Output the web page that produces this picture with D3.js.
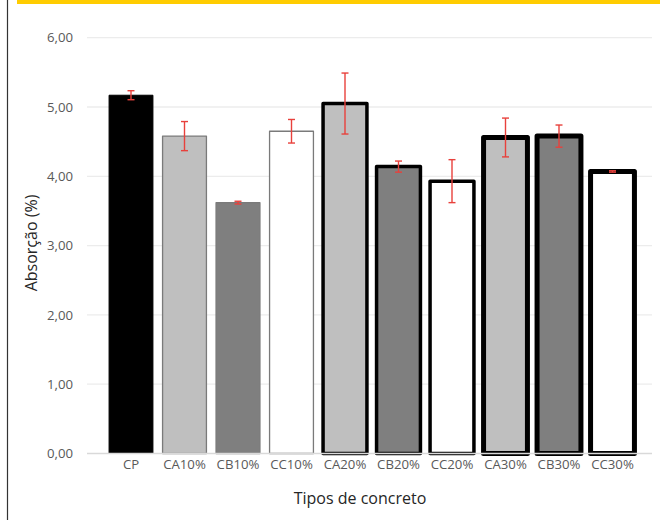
<!DOCTYPE html>
<html><head><meta charset="utf-8">
<script src="https://cdn.jsdelivr.net/npm/d3@7"></script>
<style>body{margin:0;background:#fff}svg{display:block}text{font-family:"Open Sans",sans-serif}</style>
</head><body>
<svg id="c" width="660" height="520"></svg>
<script>
const categories = ["CP","CA10%","CB10%","CC10%","CA20%","CB20%","CC20%","CA30%","CB30%","CC30%"];
const values = [5.17, 4.58, 3.62, 4.65, 5.05, 4.14, 3.93, 4.56, 4.58, 4.07];
const errors = [0.065, 0.21, 0.02, 0.17, 0.44, 0.08, 0.31, 0.28, 0.16, 0.01];
const fills = ["#000000","#bfbfbf","#7f7f7f","#ffffff","#bfbfbf","#7f7f7f","#ffffff","#bfbfbf","#7f7f7f","#ffffff"];
const yTicks = [0,1,2,3,4,5,6];
const yTickLabels = ["0,00","1,00","2,00","3,00","4,00","5,00","6,00"];
const yTitle = "Absorção (%)";
const xTitle = "Tipos de concreto";

const svg = d3.select("#c");
// frame decorations
svg.append("rect").attr("x",17).attr("y",0).attr("width",643).attr("height",4).attr("fill","#ffcc00");
svg.append("line").attr("x1",7.5).attr("x2",7.5).attr("y1",0).attr("y2",520).attr("stroke","#333").attr("stroke-width",1.2);

const gridX0 = 87, gridX1 = 652;
const y = d3.scaleLinear().domain([0,6]).range([453.5,37.7]);
const x = d3.scaleBand().domain(categories).range([104.25,639.25]).paddingInner(0.18).paddingOuter(0.09);

// gridlines
svg.append("g").selectAll("line").data(yTicks.filter(d=>d>0)).join("line")
  .attr("x1",gridX0).attr("x2",gridX1).attr("y1",d=>y(d)).attr("y2",d=>y(d))
  .attr("stroke","#ececec").attr("stroke-width",1.3);

// y axis labels
const yAxis = d3.axisLeft(y).tickValues(yTicks).tickFormat((d,i)=>yTickLabels[i]).tickSize(0).tickPadding(14);
const gy = svg.append("g").attr("transform",`translate(${gridX0},0)`).call(yAxis);
gy.select(".domain").remove();
gy.selectAll("text").attr("fill","#595959").attr("font-size",13.2).attr("font-family","Open Sans");

// bars
const strokeW = i => i===0 ? 1 : (i<=3 ? 1.3 : (i<=6 ? 3.5 : 5));
const strokeC = i => i===0 ? "#000" : (i<=3 ? "#7a7a7a" : "#000");
svg.append("g").selectAll("rect").data(values).join("rect")
  .attr("x",(d,i)=>x(categories[i]))
  .attr("width",x.bandwidth())
  .attr("y",d=>y(d))
  .attr("height",d=>y(0)-y(d))
  .attr("fill",(d,i)=>fills[i])
  .attr("stroke",(d,i)=>strokeC(i))
  .attr("stroke-width",(d,i)=>strokeW(i))
  .attr("stroke-linejoin","round");

// x axis baseline
svg.append("line").attr("x1",gridX0).attr("x2",gridX1).attr("y1",y(0)).attr("y2",y(0)).attr("stroke","#d9d9d9").attr("stroke-width",1.3);

// x axis labels
const xAxis = d3.axisBottom(x).tickSize(0).tickPadding(6);
const gx = svg.append("g").attr("transform",`translate(0,${y(0)})`).call(xAxis);
gx.select(".domain").remove();
gx.selectAll("text").attr("fill","#595959").attr("font-size",13.2).attr("font-family","Open Sans");

// error bars
const eb = svg.append("g").attr("stroke","#e8413c").attr("stroke-width",1.4);
values.forEach((v,i)=>{
  const cx = x(categories[i]) + x.bandwidth()/2;
  eb.append("line").attr("x1",cx).attr("x2",cx).attr("y1",y(v+errors[i])).attr("y2",y(v-errors[i]));
  eb.append("line").attr("x1",cx-3.5).attr("x2",cx+3.5).attr("y1",y(v+errors[i])).attr("y2",y(v+errors[i]));
  eb.append("line").attr("x1",cx-3.5).attr("x2",cx+3.5).attr("y1",y(v-errors[i])).attr("y2",y(v-errors[i]));
});

// titles
svg.append("text").attr("transform","translate(36.5,243) rotate(-90)").attr("text-anchor","middle")
  .attr("fill","#262626").attr("font-size",16).text(yTitle);
svg.append("text").attr("x",360).attr("y",504).attr("text-anchor","middle")
  .attr("fill","#262626").attr("font-size",16).text(xTitle);
</script>
</body></html>
